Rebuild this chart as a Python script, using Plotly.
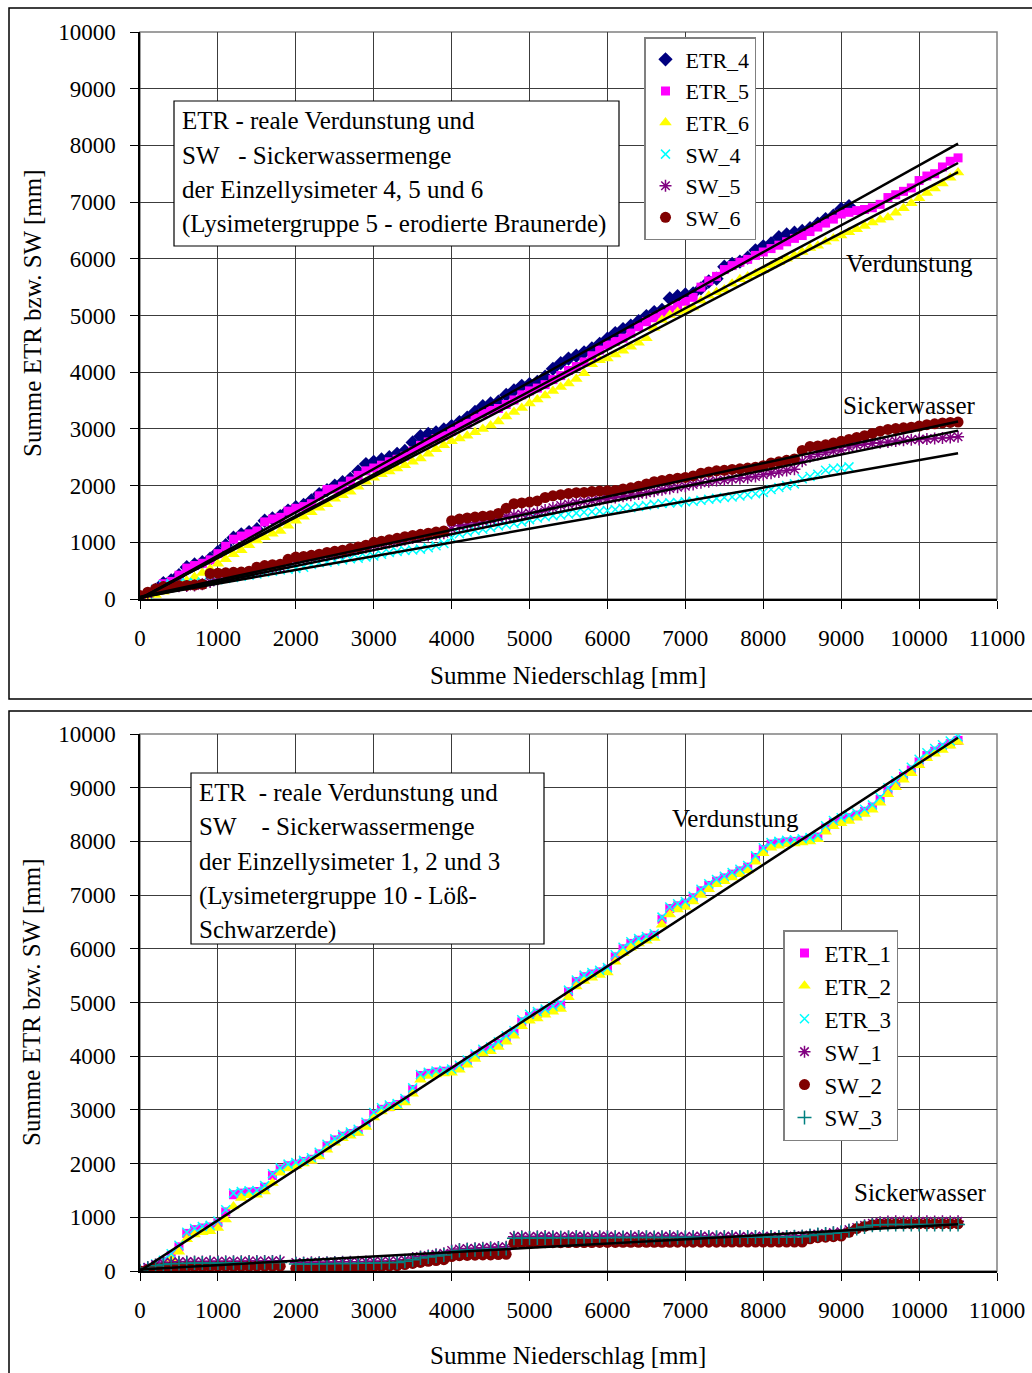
import plotly.graph_objects as go

# ---------------------------------------------------------------------------
# Cumulative precipitation (x, mm) sampled every 100 mm
# ---------------------------------------------------------------------------
NIEDERSCHLAG = [
    0, 100, 200, 300, 400, 500, 600, 700, 800, 900,
    1000, 1100, 1200, 1300, 1400, 1500, 1600, 1700, 1800, 1900,
    2000, 2100, 2200, 2300, 2400, 2500, 2600, 2700, 2800, 2900,
    3000, 3100, 3200, 3300, 3400, 3500, 3600, 3700, 3800, 3900,
    4000, 4100, 4200, 4300, 4400, 4500, 4600, 4700, 4800, 4900,
    5000, 5100, 5200, 5300, 5400, 5500, 5600, 5700, 5800, 5900,
    6000, 6100, 6200, 6300, 6400, 6500, 6600, 6700, 6800, 6900,
    7000, 7100, 7200, 7300, 7400, 7500, 7600, 7700, 7800, 7900,
    8000, 8100, 8200, 8300, 8400, 8500, 8600, 8700, 8800, 8900,
    9000, 9100, 9200, 9300, 9400, 9500, 9600, 9700, 9800, 9900,
    10000, 10100, 10200, 10300, 10400, 10500,
]

# Lysimetergruppe 5 (Einzellysimeter 4, 5, 6) - cumulative sums in mm
ETR_4 = [
    0, 50, 160, 280, 330, 420, 560, 610, 650, 710,
    830, 950, 1080, 1140, 1180, 1230, 1380, 1420, 1460, 1560,
    1620, 1660, 1740, 1850, 1920, 2000, 2060, 2120, 2250, 2380,
    2420, 2460, 2500, 2560, 2610, 2760, 2870, 2910, 2940, 2990,
    3050, 3120, 3200, 3300, 3400, 3450, 3480, 3600, 3680, 3760,
    3790, 3830, 3920, 4060, 4160, 4240, 4290, 4350, 4420, 4500,
    4590, 4690, 4760, 4820, 4900, 4990, 5060, 5100, 5300, 5340,
    5370, 5390, 5480, 5600, 5650, 5860, 5910, 5950, 6020, 6150,
    6220, 6270, 6380, 6430, 6460, 6490, 6540, 6620, 6700, 6760,
    6880, 6930,
]
ETR_5 = [
    0, 40, 170, 270, 310, 420, 545, 590, 630, 690,
    800, 930, 1055, 1110, 1150, 1200, 1360, 1410, 1440, 1550,
    1600, 1630, 1680, 1820, 1930, 1940, 1990, 2080, 2180, 2260,
    2310, 2360, 2420, 2465, 2520, 2610, 2710, 2770, 2830, 2880,
    2960, 3050, 3100, 3190, 3270, 3325, 3360, 3430, 3510, 3600,
    3670, 3720, 3780, 3870, 3940, 4030, 4100, 4180, 4290, 4390,
    4480, 4540, 4600, 4690, 4800, 4890, 4960, 5030, 5100, 5180,
    5250, 5320, 5500, 5610, 5690, 5810, 5880, 5940, 5990, 6060,
    6120, 6180, 6240, 6300, 6360, 6410, 6480, 6560, 6630, 6700,
    6790, 6820, 6850, 6870, 6900, 6960, 7080, 7130, 7190, 7250,
    7380, 7460, 7500, 7620, 7720, 7780,
]
ETR_6 = [
    0, 25, 70, 130, 190, 250, 320, 390, 460, 530,
    620, 700, 790, 860, 950, 1030, 1090, 1150, 1200, 1290,
    1380, 1450, 1530, 1610, 1670, 1770, 1830, 1890, 1980, 2070,
    2140, 2200, 2250, 2300, 2360, 2420, 2480, 2560, 2640, 2710,
    2780, 2830, 2880, 2940, 3000, 3060, 3130, 3220, 3300, 3370,
    3450, 3520, 3590, 3670, 3740, 3800, 3880, 3980, 4140, 4210,
    4240, 4310, 4380, 4450, 4520, 4600, 4780, 4920, 5010, 5060,
    5090, 5140, 5260, 5350, 5410, 5460, 5560, 5640, 5690, 5740,
    5800, 5880, 5940, 6000, 6060, 6120, 6190, 6230, 6300, 6360,
    6410, 6470, 6520, 6580, 6640, 6690, 6730, 6810, 6890, 6980,
    7070, 7160, 7240, 7330, 7430, 7520,
]
SW_4 = [
    0, 80, 170, 250, 270, 280, 285, 290, 300, 315,
    340, 360, 380, 400, 420, 440, 470, 490, 510, 525,
    540, 560, 610, 640, 650, 670, 690, 710, 720, 740,
    760, 790, 820, 840, 855, 865, 880, 905, 940, 980,
    1080, 1150, 1180, 1210, 1230, 1260, 1290, 1310, 1330, 1360,
    1400, 1430, 1450, 1470, 1480, 1500, 1515, 1530, 1540, 1550,
    1560, 1580, 1600, 1610, 1630, 1650, 1670, 1685, 1695, 1700,
    1715, 1725, 1740, 1760, 1775, 1790, 1800, 1815, 1840, 1855,
    1880, 1930, 1965, 2000, 2030, 2120, 2160, 2200, 2270, 2300,
    2310, 2330,
]
SW_5 = [
    0, 90, 160, 200, 215, 225, 230, 240, 260, 300,
    350, 390, 420, 440, 465, 500, 530, 550, 570, 630,
    670, 700, 730, 750, 770, 790, 815, 850, 880, 910,
    940, 970, 995, 1020, 1045, 1075, 1100, 1120, 1140, 1160,
    1240, 1290, 1320, 1345, 1375, 1400, 1425, 1455, 1480, 1500,
    1515, 1530, 1570, 1610, 1650, 1675, 1700, 1720, 1735, 1750,
    1770, 1790, 1810, 1830, 1850, 1875, 1900, 1925, 1950, 1970,
    1990, 2020, 2050, 2070, 2090, 2100, 2115, 2125, 2140, 2160,
    2190, 2220, 2240, 2265, 2290, 2430, 2510, 2550, 2580, 2610,
    2630, 2680, 2710, 2730, 2745, 2755, 2770, 2785, 2800, 2810,
    2815, 2820, 2830, 2840, 2850, 2860,
]
SW_6 = [
    60, 120, 180, 220, 228, 232, 240, 245, 260, 450,
    455, 462, 470, 475, 490, 560, 590, 605, 615, 700,
    740, 750, 770, 790, 820, 840, 860, 890, 915, 950,
    1000, 1020, 1045, 1070, 1100, 1120, 1140, 1160, 1180, 1200,
    1380, 1410, 1430, 1445, 1460, 1470, 1510, 1600, 1680, 1695,
    1710, 1730, 1790, 1820, 1840, 1860, 1875, 1880, 1895, 1905,
    1910, 1915, 1940, 1960, 1990, 2030, 2070, 2090, 2110, 2130,
    2145, 2170, 2220, 2240, 2260, 2270, 2285, 2295, 2310, 2325,
    2350, 2400, 2420, 2445, 2470, 2620, 2690, 2700, 2720, 2750,
    2780, 2815, 2850, 2880, 2920, 2960, 2990, 3005, 3020, 3030,
    3050, 3075, 3090, 3105, 3115, 3120,
]

# Lysimetergruppe 10 (Einzellysimeter 1, 2, 3) - cumulative sums in mm
ETR_1 = [
    0, 50, 110, 180, 290, 450, 700, 770, 800, 820,
    900, 1100, 1420, 1450, 1470, 1480, 1560, 1780, 1900, 1960,
    1990, 2040, 2080, 2180, 2330, 2440, 2510, 2560, 2610, 2740,
    2920, 3010, 3060, 3100, 3180, 3380, 3640, 3680, 3705, 3720,
    3740, 3800, 3900, 4010, 4100, 4150, 4240, 4350, 4450, 4640,
    4740, 4800, 4850, 4900, 4950, 5200, 5390, 5480, 5530, 5570,
    5620, 5850, 6000, 6100, 6160, 6200, 6250, 6550, 6750, 6800,
    6850, 6950, 7080, 7180, 7260, 7320, 7390, 7450, 7520, 7700,
    7850, 7950, 7970, 7990, 8000, 8020, 8040, 8080, 8250, 8350,
    8400, 8440, 8490, 8560, 8640, 8780, 8950, 9080, 9210, 9330,
    9480, 9600, 9680, 9750, 9820, 9880,
]
ETR_2 = [
    0, 30, 80, 140, 230, 360, 590, 680, 720, 740,
    800, 960, 1200, 1360, 1410, 1420, 1480, 1640, 1830, 1910,
    1950, 2000, 2050, 2130, 2260, 2390, 2470, 2520, 2570, 2680,
    2860, 2970, 3030, 3070, 3140, 3300, 3560, 3630, 3660, 3680,
    3690, 3750, 3840, 3950, 4050, 4090, 4170, 4270, 4380, 4560,
    4660, 4700, 4770, 4830, 4880, 5100, 5300, 5400, 5460, 5510,
    5560, 5760, 5920, 6020, 6100, 6150, 6200, 6450, 6640, 6730,
    6780, 6880, 7000, 7110, 7200, 7260, 7330, 7390, 7460, 7620,
    7780, 7880, 7920, 7950, 7960, 7980, 8000, 8040, 8180, 8280,
    8340, 8380, 8440, 8510, 8590, 8720, 8880, 9010, 9150, 9270,
    9420, 9550, 9630, 9700, 9780, 9850,
]
ETR_3 = [
    0, 60, 130, 200, 320, 480, 720, 790, 830, 850,
    930, 1140, 1450, 1480, 1495, 1500, 1590, 1810, 1920, 1990,
    2020, 2060, 2110, 2210, 2360, 2460, 2540, 2590, 2640, 2770,
    2950, 3040, 3090, 3120, 3210, 3410, 3660, 3700, 3725, 3740,
    3760, 3830, 3930, 4040, 4130, 4170, 4270, 4380, 4480, 4680,
    4780, 4830, 4880, 4930, 4980, 5230, 5420, 5510, 5560, 5600,
    5650, 5890, 6030, 6130, 6190, 6230, 6280, 6590, 6780, 6840,
    6880, 6980, 7110, 7210, 7290, 7350, 7420, 7480, 7550, 7730,
    7880, 7980, 8000, 8020, 8030, 8050, 8070, 8110, 8290, 8390,
    8440, 8480, 8530, 8600, 8680, 8820, 9000, 9130, 9260, 9380,
    9530, 9650, 9730, 9800, 9870, 9950,
]
SW_1 = [
    0, 70, 120, 150, 165, 170, 175, 175, 178, 180,
    180, 180, 180, 182, 185, 185, 185, 188, 190, None,
    160, 160, 162, 165, 165, 168, 170, 170, 172, 175,
    180, 182, 185, 190, 210, 240, 270, 290, 310, 330,
    380, 410, 420, 425, 435, 440, 445, 450, 640, 645,
    640, 645, 650, 645, 640, 645, 650, 645, 640, 645,
    650, 645, 640, 645, 650, 645, 640, 645, 650, 645,
    640, 645, 650, 645, 640, 645, 650, 645, 640, 645,
    650, 645, 640, 645, 650, 655, 670, 690, 700, 715,
    730, 770, 810, 850, 890, 910, 920, 925, 920, 925,
    920, 925, 920, 925, 920, 925,
]
SW_2 = [
    0, 30, 50, 60, 65, 70, 80, 80, 80, 80,
    85, 85, 85, 85, 88, 90, 90, 90, 90, None,
    50, 50, 52, 55, 55, 58, 60, 60, 65, 70,
    80, 85, 95, 100, 120, 140, 160, 180, 195, 210,
    270, 285, 290, 295, 300, 300, 305, 310, 520, 522,
    525, 525, 527, 528, 528, 530, 530, 530, 530, 532,
    532, 532, 534, 534, 534, 535, 535, 535, 535, 536,
    536, 536, 537, 537, 537, 538, 538, 538, 538, 539,
    539, 539, 540, 540, 540, 540, 600, 620, 630, 640,
    650, 720, 790, 830, 860, 875, 880, 880, 880, 880,
    880, 880, 880, 880, 880, 880,
]
SW_3 = [
    0, 50, 100, 120, 135, 140, 145, 148, 150, 150,
    150, 150, 155, 155, 155, 155, 158, 160, 160, None,
    130, 130, 132, 135, 135, 138, 140, 140, 142, 145,
    150, 152, 156, 160, 180, 210, 240, 260, 280, 300,
    350, 380, 390, 395, 400, 410, 415, 420, 610, 615,
    615, 615, 615, 618, 618, 620, 620, 620, 620, 620,
    620, 622, 622, 624, 624, 625, 625, 625, 626, 626,
    627, 627, 628, 628, 629, 630, 630, 630, 631, 632,
    632, 633, 634, 635, 636, 638, 660, 680, 690, 705,
    720, 750, 790, 820, 850, 860, 865, 865, 865, 865,
    865, 865, 865, 865, 865, 865,
]

# Linear trend lines (start / end of each fitted line)
TREND_X = [0, 10500]
TREND_ETR_4 = [0, 8030]
TREND_ETR_5 = [0, 7690]
TREND_ETR_6 = [10, 7530]
TREND_SW_4 = [30, 2570]
TREND_SW_5 = [20, 2970]
TREND_SW_6 = [40, 3130]
TREND_ETR_123 = [0, 9930]
TREND_SW_123 = [30, 870]

X_TICKS = [0, 1000, 2000, 3000, 4000, 5000, 6000, 7000, 8000, 9000, 10000, 11000]
X_TICK_LABELS = ["0", "1000", "2000", "3000", "4000", "5000", "6000", "7000",
                 "8000", "9000", "10000", "11000"]
Y_TICKS = [0, 1000, 2000, 3000, 4000, 5000, 6000, 7000, 8000, 9000, 10000]
Y_TICK_LABELS = ["0", "1000", "2000", "3000", "4000", "5000", "6000", "7000",
                 "8000", "9000", "10000"]

W, H = 1032, 1373
SERIF = "Liberation Serif, Times New Roman, serif"


def px(x):
    return x / W


def py(y):
    return 1 - y / H


fig = go.Figure()

series_top = [
    ("ETR_4", ETR_4, dict(symbol="diamond", size=11, color="#000080")),
    ("ETR_5", ETR_5, dict(symbol="square", size=9, color="#FF00FF")),
    ("ETR_6", ETR_6, dict(symbol="triangle-up", size=11, color="#FFFF00")),
    ("SW_4", SW_4, dict(symbol="x-thin", size=9, color="#00FFFF",
                        line=dict(color="#00FFFF", width=1.5))),
    ("SW_5", SW_5, dict(symbol="asterisk", size=10, color="#800080",
                        line=dict(color="#800080", width=1.5))),
    ("SW_6", SW_6, dict(symbol="circle", size=11, color="#800000")),
]
for name, vals, mk in series_top:
    fig.add_trace(go.Scatter(
        x=NIEDERSCHLAG[:len(vals)], y=vals, mode="markers", name=name,
        marker=mk, xaxis="x", yaxis="y", legend="legend",
    ))

for trend in [TREND_ETR_4, TREND_ETR_5, TREND_ETR_6,
              TREND_SW_4, TREND_SW_5, TREND_SW_6]:
    fig.add_trace(go.Scatter(
        x=TREND_X, y=trend, mode="lines", showlegend=False,
        line=dict(color="black", width=2.5), xaxis="x", yaxis="y",
        hoverinfo="skip",
    ))

series_bottom = [
    ("ETR_1", ETR_1, dict(symbol="square", size=9, color="#FF00FF")),
    ("ETR_2", ETR_2, dict(symbol="triangle-up", size=11, color="#FFFF00")),
    ("ETR_3", ETR_3, dict(symbol="x-thin", size=9, color="#00FFFF",
                          line=dict(color="#00FFFF", width=1.5))),
    ("SW_1", SW_1, dict(symbol="asterisk", size=10, color="#800080",
                        line=dict(color="#800080", width=1.5))),
    ("SW_2", SW_2, dict(symbol="circle", size=11, color="#800000")),
    ("SW_3", SW_3, dict(symbol="cross-thin", size=10, color="#008080",
                        line=dict(color="#008080", width=1.5))),
]
for name, vals, mk in series_bottom:
    fig.add_trace(go.Scatter(
        x=NIEDERSCHLAG[:len(vals)], y=vals, mode="markers", name=name,
        marker=mk, xaxis="x2", yaxis="y2", legend="legend2",
    ))

for trend in [TREND_ETR_123, TREND_SW_123]:
    fig.add_trace(go.Scatter(
        x=TREND_X, y=trend, mode="lines", showlegend=False,
        line=dict(color="black", width=2.5), xaxis="x2", yaxis="y2",
        hoverinfo="skip",
    ))

x_dom = [px(140), px(997)]
axis_common = dict(
    showgrid=True, gridcolor="#3c3c3c", gridwidth=1,
    showline=True, linecolor="black", linewidth=1.5,
    ticks="outside", ticklen=8, tickcolor="black", tickwidth=1,
    zeroline=False, automargin=False,
    tickfont=dict(family=SERIF, size=23, color="black"),
)
x_common = dict(domain=x_dom, range=[0, 11000], tickmode="array",
                tickvals=X_TICKS, ticktext=X_TICK_LABELS,
                ticklabelstandoff=10, **axis_common)
y_common = dict(range=[0, 10000], tickmode="array", tickvals=Y_TICKS,
                ticktext=Y_TICK_LABELS, ticklabelstandoff=10, **axis_common)

fig.update_layout(
    width=W, height=H, autosize=False,
    margin=dict(l=0, r=0, t=0, b=0, pad=0, autoexpand=False),
    paper_bgcolor="white", plot_bgcolor="white",
    font=dict(family=SERIF, color="black"),
    xaxis=dict(anchor="y", **x_common),
    yaxis=dict(domain=[py(599), py(32)], anchor="x", **y_common),
    xaxis2=dict(anchor="y2", **x_common),
    yaxis2=dict(domain=[py(1271), py(734)], anchor="x2", **y_common),
    legend=dict(x=px(644), y=py(37), xanchor="left", yanchor="top",
                bgcolor="white", bordercolor="#808080", borderwidth=1.5,
                font=dict(family=SERIF, size=22, color="black"),
                traceorder="normal"),
    legend2=dict(x=px(783), y=py(930), xanchor="left", yanchor="top",
                 bgcolor="white", bordercolor="#808080", borderwidth=1.5,
                 font=dict(family=SERIF, size=23, color="black"),
                 traceorder="normal"),
    showlegend=True,
)

# Panel frames are open on the right / bottom where they run off the page.
x_l, x_r = px(9), px(1032)
frame_top = "M {r},{t} L {l},{t} L {l},{b} L {r},{b}".format(
    l=x_l, r=x_r, t=py(8), b=py(699))
frame_bottom = "M {r},{t} L {l},{t} L {l},{b}".format(
    l=x_l, r=x_r, t=py(711), b=py(1373))

shapes = [
    dict(type="path", xref="paper", yref="paper", path=frame_top,
         line=dict(color="black", width=1.5)),
    dict(type="path", xref="paper", yref="paper", path=frame_bottom,
         line=dict(color="black", width=1.5)),
    # plot-area borders
    dict(type="rect", xref="x domain", yref="y domain", x0=0, y0=0, x1=1, y1=1,
         line=dict(color="#808080", width=1.5), layer="below"),
    dict(type="rect", xref="x2 domain", yref="y2 domain", x0=0, y0=0, x1=1,
         y1=1, line=dict(color="#808080", width=1.5), layer="below"),
    # description boxes
    dict(type="rect", xref="paper", yref="paper",
         x0=px(174), y0=py(246), x1=px(619), y1=py(101),
         line=dict(color="black", width=1.2), fillcolor="white"),
    dict(type="rect", xref="paper", yref="paper",
         x0=px(191), y0=py(944), x1=px(544), y1=py(773),
         line=dict(color="black", width=1.2), fillcolor="white"),
]
fig.update_layout(shapes=shapes)

NB = "\u00a0"
box_top_lines = [
    "ETR - reale Verdunstung und",
    "SW" + NB * 3 + "- Sickerwassermenge",
    "der Einzellysimeter 4, 5 und 6",
    "(Lysimetergruppe 5 - erodierte Braunerde)",
]
box_bottom_lines = [
    "ETR" + NB * 2 + "- reale Verdunstung und",
    "SW" + NB * 4 + "- Sickerwassermenge",
    "der Einzellysimeter 1, 2 und 3",
    "(Lysimetergruppe 10 - Löß-",
    "Schwarzerde)",
]

annotations = []
for i, line in enumerate(box_top_lines):
    annotations.append(dict(
        text=line, xref="paper", yref="paper", x=px(180), y=py(121 + 34.4 * i),
        xanchor="left", yanchor="middle", showarrow=False,
        font=dict(family=SERIF, size=25, color="black")))
for i, line in enumerate(box_bottom_lines):
    annotations.append(dict(
        text=line, xref="paper", yref="paper", x=px(197), y=py(792 + 34.5 * i),
        xanchor="left", yanchor="middle", showarrow=False,
        font=dict(family=SERIF, size=25, color="black")))

labels = [
    ("Verdunstung", 909, 263),
    ("Sickerwasser", 909, 405),
    ("Verdunstung", 735, 818),
    ("Sickerwasser", 920, 1192),
]
for text, lx, ly in labels:
    annotations.append(dict(
        text=text, xref="paper", yref="paper", x=px(lx), y=py(ly),
        xanchor="center", yanchor="middle", showarrow=False,
        font=dict(family=SERIF, size=25, color="black")))

for ty in (675, 1355):
    annotations.append(dict(
        text="Summe Niederschlag [mm]", xref="paper", yref="paper",
        x=px(568), y=py(ty), xanchor="center", yanchor="middle",
        showarrow=False, font=dict(family=SERIF, size=25, color="black")))
for ty in (314, 1003):
    annotations.append(dict(
        text="Summe ETR bzw. SW [mm]", xref="paper", yref="paper",
        x=px(32), y=py(ty), xanchor="center", yanchor="middle",
        textangle=-90, showarrow=False,
        font=dict(family=SERIF, size=25, color="black")))

fig.update_layout(annotations=annotations)

fig.write_html(
    "out.html",
    post_script="document.body.style.margin='0';",
)
